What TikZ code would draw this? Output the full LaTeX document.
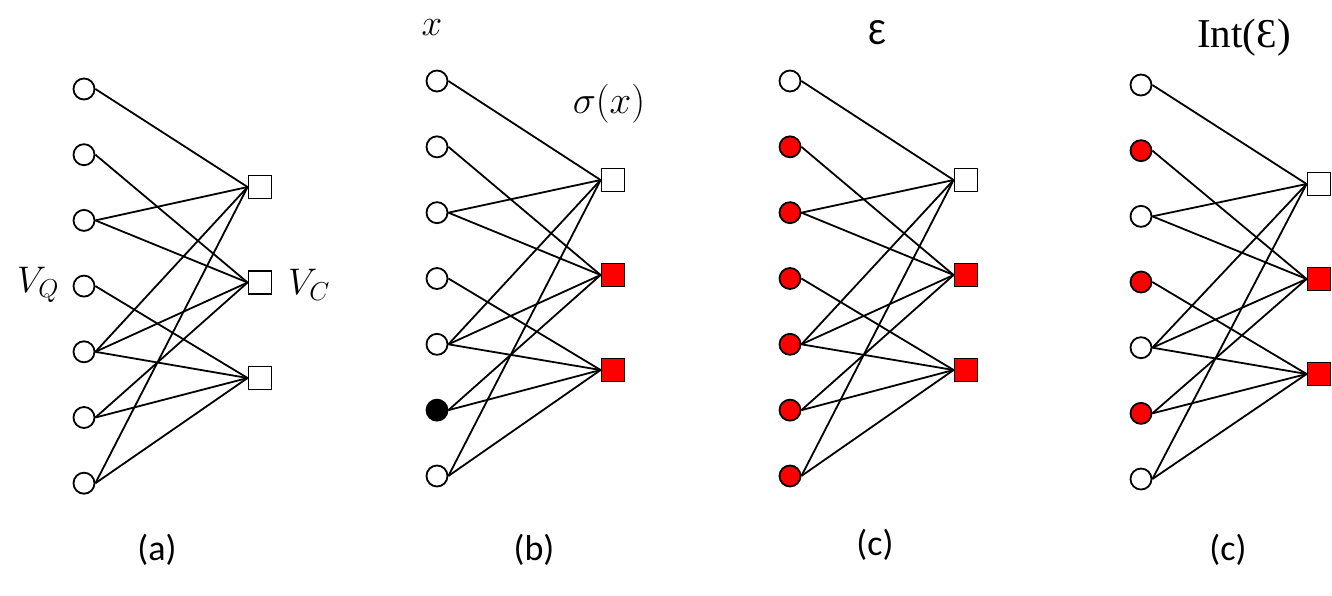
\RequirePackage{fix-cm}
\documentclass[tikz,border=0pt]{standalone}
\usepackage{fontspec}
\setmainfont{Carlito}
\newfontfamily\serifE{Liberation Serif}
\tikzset{
  vnode/.style={circle,draw,line width=1.8pt,minimum size=21pt,inner sep=0pt},
  cnode/.style={rectangle,draw,line width=1.8pt,minimum size=23pt,inner sep=0pt},
  edge/.style={line width=1.8pt},
  mlabel/.style={inner sep=0pt,font=\fontsize{37}{39}\selectfont},
  clabel/.style={inner sep=0pt,font=\fontsize{36}{38}\selectfont},
}
\newcommand\drawpanel[9]{%
  \foreach \f [count=\i] in {#8} {\node[vnode,fill=\f] (#1v\i) at (#2,{#3+(\i-1)*#4}) {};}
  \foreach \f [count=\j] in {#9} {\node[cnode,fill=\f] (#1c\j) at (#5,{#6+(\j-1)*#7}) {};}
  \foreach \a/\b in {1/1,2/2,3/1,3/2,4/3,5/1,5/2,5/3,6/2,6/3,7/1,7/3}
    {\draw[edge] (#1v\a.east) -- (#1c\b.west);}
}
\begin{document}
\begin{tikzpicture}[x=1pt,y=-1pt]
\useasboundingbox (0,0) rectangle (1332,595);
\drawpanel{a}{84}{89}{65.7}{260}{187}{95.5}{white,white,white,white,white,white,white}{white,white,white}
\drawpanel{b}{437}{81}{65.83}{613}{180}{95}{white,white,white,white,white,black,white}{white,red,red}
\drawpanel{c}{790}{81}{65.83}{966}{180}{95}{white,red,red,red,red,red,red}{white,red,red}
\drawpanel{d}{1141}{85}{65.67}{1319}{184}{95}{white,red,white,red,white,red,white}{white,red,red}
\node[mlabel] (lvq) at (38,285) {$V_Q$};
\node[mlabel] (lvc) at (309,285) {$V_C$};
\node[mlabel] (lx) at (432,28) {$x$};
\node[mlabel,font=\fontsize{39}{41}\selectfont] (lsx) at (609,104) {$\sigma(x)$};
\node[mlabel] (le) at (877,33) {Ɛ};
\node[mlabel,font=\fontsize{41}{43}\selectfont] (lie) at (1244,38) {\serifE Int(Ɛ)};
\node[clabel] (la) at (157,550) {(a)};
\node[clabel] (lb) at (534,550) {(b)};
\node[clabel] (lc) at (875,545) {(c)};
\node[clabel] (ld) at (1228,550) {(c)};
\end{tikzpicture}
\end{document}
